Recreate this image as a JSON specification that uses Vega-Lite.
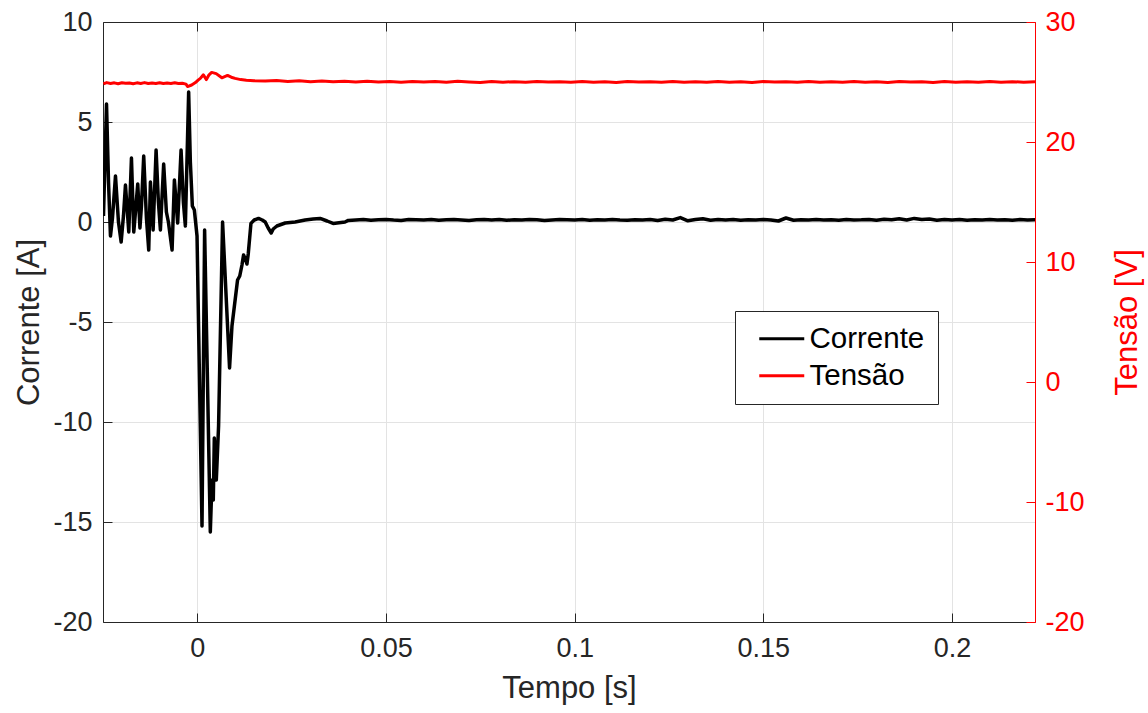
{
  "$schema": "https://vega.github.io/schema/vega-lite/v6.json",
  "width": 932,
  "height": 600,
  "autosize": "none",
  "padding": {"left": 103, "top": 22, "right": 113, "bottom": 91},
  "background": "#ffffff",
  "config": {
    "font": "Liberation Sans",
    "view": {"stroke": null, "fill": "#ffffff"},
    "axis": {
      "labelFont": "Liberation Sans",
      "titleFont": "Liberation Sans",
      "labelFontSize": 27,
      "titleFontSize": 31,
      "titleFontWeight": "normal",
      "labelColor": "#262626",
      "titleColor": "#262626",
      "domainColor": "#262626",
      "tickColor": "#262626",
      "gridColor": "#e3e3e3",
      "gridWidth": 1,
      "domainWidth": 1,
      "tickWidth": 1,
      "tickSize": -9,
      "labelFlush": false,
      "labelOverlap": false
    },
    "legend": {
      "labelFont": "Liberation Sans"
    }
  },
  "datasets": {
    "corrente": [
      {"t": -0.02487, "i": 0.3}, {"t": -0.02407, "i": 5.9}, {"t": -0.02354, "i": 2.0}, {"t": -0.02302, "i": -0.7},
      {"t": -0.02249, "i": 0.2}, {"t": -0.02169, "i": 2.3}, {"t": -0.0209, "i": 0.0}, {"t": -0.02019, "i": -1.0},
      {"t": -0.01958, "i": 0.3}, {"t": -0.01905, "i": 1.85}, {"t": -0.01817, "i": -0.5}, {"t": -0.01746, "i": 3.2},
      {"t": -0.01685, "i": -0.5}, {"t": -0.0164, "i": 0.5}, {"t": -0.01579, "i": 1.9}, {"t": -0.01521, "i": -0.3},
      {"t": -0.01481, "i": 0.8}, {"t": -0.01421, "i": 3.3}, {"t": -0.01349, "i": 0.2}, {"t": -0.01288, "i": -1.4},
      {"t": -0.01243, "i": 2.0}, {"t": -0.01172, "i": -0.4}, {"t": -0.01093, "i": 3.6}, {"t": -0.01032, "i": 1.0},
      {"t": -0.00979, "i": -0.4}, {"t": -0.00892, "i": 2.9}, {"t": -0.0082, "i": 0.5}, {"t": -0.00767, "i": 0.0},
      {"t": -0.00669, "i": -1.4}, {"t": -0.00608, "i": 2.1}, {"t": -0.00521, "i": -0.05}, {"t": -0.00431, "i": 3.6},
      {"t": -0.0037, "i": 1.0}, {"t": -0.00317, "i": -0.2}, {"t": -0.0023, "i": 6.5}, {"t": -0.00185, "i": 3.0},
      {"t": -0.00132, "i": 0.8}, {"t": -0.00079, "i": 0.6}, {"t": -0.00008, "i": -0.7}, {"t": 0.00124, "i": -15.2},
      {"t": 0.00193, "i": -0.4}, {"t": 0.00344, "i": -15.5}, {"t": 0.00389, "i": -12.9}, {"t": 0.00423, "i": -13.9},
      {"t": 0.0045, "i": -10.8}, {"t": 0.00503, "i": -12.9}, {"t": 0.00563, "i": -10.2}, {"t": 0.00669, "i": 0.0},
      {"t": 0.00854, "i": -7.3}, {"t": 0.00918, "i": -5.2}, {"t": 0.01066, "i": -2.9}, {"t": 0.01124, "i": -2.7},
      {"t": 0.01183, "i": -2.15}, {"t": 0.01225, "i": -1.65}, {"t": 0.01283, "i": -1.9}, {"t": 0.01315, "i": -2.1},
      {"t": 0.01349, "i": -1.6}, {"t": 0.01421, "i": -0.07}, {"t": 0.01508, "i": 0.1}, {"t": 0.01622, "i": 0.18},
      {"t": 0.0172, "i": 0.1}, {"t": 0.01799, "i": 0.0}, {"t": 0.01878, "i": -0.3}, {"t": 0.01958, "i": -0.55},
      {"t": 0.02011, "i": -0.35}, {"t": 0.02108, "i": -0.2}, {"t": 0.02328, "i": -0.05}, {"t": 0.02593, "i": 0.0},
      {"t": 0.02857, "i": 0.1}, {"t": 0.03069, "i": 0.15}, {"t": 0.03254, "i": 0.18}, {"t": 0.03439, "i": 0.05},
      {"t": 0.03598, "i": -0.07}, {"t": 0.03915, "i": 0.0},
      {"t": 0.040, "i": 0.08}, {"t": 0.042, "i": 0.10}, {"t": 0.044, "i": 0.12}, {"t": 0.046, "i": 0.09}, {"t": 0.048, "i": 0.11},
      {"t": 0.050, "i": 0.13}, {"t": 0.052, "i": 0.10}, {"t": 0.054, "i": 0.08}, {"t": 0.056, "i": 0.12}, {"t": 0.058, "i": 0.11},
      {"t": 0.060, "i": 0.10}, {"t": 0.062, "i": 0.13}, {"t": 0.064, "i": 0.09}, {"t": 0.066, "i": 0.11}, {"t": 0.068, "i": 0.12},
      {"t": 0.070, "i": 0.10}, {"t": 0.072, "i": 0.08}, {"t": 0.074, "i": 0.11}, {"t": 0.076, "i": 0.13}, {"t": 0.078, "i": 0.10},
      {"t": 0.080, "i": 0.12}, {"t": 0.082, "i": 0.09}, {"t": 0.084, "i": 0.11}, {"t": 0.086, "i": 0.10}, {"t": 0.088, "i": 0.13},
      {"t": 0.090, "i": 0.11}, {"t": 0.092, "i": 0.08}, {"t": 0.094, "i": 0.10}, {"t": 0.096, "i": 0.12}, {"t": 0.098, "i": 0.11},
      {"t": 0.100, "i": 0.10}, {"t": 0.102, "i": 0.12}, {"t": 0.104, "i": 0.09}, {"t": 0.106, "i": 0.11}, {"t": 0.108, "i": 0.10},
      {"t": 0.110, "i": 0.12}, {"t": 0.112, "i": 0.10}, {"t": 0.114, "i": 0.09}, {"t": 0.116, "i": 0.11}, {"t": 0.118, "i": 0.10},
      {"t": 0.120, "i": 0.12}, {"t": 0.122, "i": 0.08}, {"t": 0.124, "i": 0.14}, {"t": 0.126, "i": 0.10}, {"t": 0.128, "i": 0.22},
      {"t": 0.130, "i": 0.06}, {"t": 0.132, "i": 0.12}, {"t": 0.134, "i": 0.16}, {"t": 0.136, "i": 0.09}, {"t": 0.138, "i": 0.13},
      {"t": 0.140, "i": 0.10}, {"t": 0.142, "i": 0.12}, {"t": 0.144, "i": 0.09}, {"t": 0.146, "i": 0.11}, {"t": 0.148, "i": 0.10},
      {"t": 0.150, "i": 0.12}, {"t": 0.152, "i": 0.10}, {"t": 0.154, "i": 0.05}, {"t": 0.156, "i": 0.20}, {"t": 0.158, "i": 0.09},
      {"t": 0.160, "i": 0.11}, {"t": 0.162, "i": 0.10}, {"t": 0.164, "i": 0.12}, {"t": 0.166, "i": 0.10}, {"t": 0.168, "i": 0.11},
      {"t": 0.170, "i": 0.09}, {"t": 0.172, "i": 0.12}, {"t": 0.174, "i": 0.10}, {"t": 0.176, "i": 0.11}, {"t": 0.178, "i": 0.13},
      {"t": 0.180, "i": 0.09}, {"t": 0.182, "i": 0.14}, {"t": 0.184, "i": 0.11}, {"t": 0.186, "i": 0.16}, {"t": 0.188, "i": 0.10},
      {"t": 0.190, "i": 0.18}, {"t": 0.192, "i": 0.12}, {"t": 0.194, "i": 0.15}, {"t": 0.196, "i": 0.09}, {"t": 0.198, "i": 0.13},
      {"t": 0.200, "i": 0.10}, {"t": 0.202, "i": 0.12}, {"t": 0.204, "i": 0.09}, {"t": 0.206, "i": 0.11}, {"t": 0.208, "i": 0.10},
      {"t": 0.210, "i": 0.12}, {"t": 0.212, "i": 0.10}, {"t": 0.214, "i": 0.11}, {"t": 0.216, "i": 0.09}, {"t": 0.218, "i": 0.12},
      {"t": 0.220, "i": 0.10}, {"t": 0.222, "i": 0.11}
    ],
    "tensao": [
      {"t": -0.0249, "v": 24.85}, {"t": -0.024, "v": 24.95}, {"t": -0.023, "v": 24.88}, {"t": -0.022, "v": 24.93},
      {"t": -0.021, "v": 24.86}, {"t": -0.020, "v": 24.94}, {"t": -0.019, "v": 24.89}, {"t": -0.018, "v": 24.92},
      {"t": -0.017, "v": 24.86}, {"t": -0.016, "v": 24.93}, {"t": -0.015, "v": 24.88}, {"t": -0.014, "v": 24.95},
      {"t": -0.013, "v": 24.87}, {"t": -0.012, "v": 24.92}, {"t": -0.011, "v": 24.88}, {"t": -0.010, "v": 24.94},
      {"t": -0.009, "v": 24.87}, {"t": -0.008, "v": 24.91}, {"t": -0.007, "v": 24.88}, {"t": -0.006, "v": 24.93},
      {"t": -0.005, "v": 24.87}, {"t": -0.004, "v": 24.9}, {"t": -0.003, "v": 24.82}, {"t": -0.0026, "v": 24.62},
      {"t": -0.0015, "v": 24.75}, {"t": -0.0005, "v": 24.95}, {"t": 0.0002, "v": 25.15}, {"t": 0.0008, "v": 25.3},
      {"t": 0.0016, "v": 25.6}, {"t": 0.0024, "v": 25.2}, {"t": 0.0031, "v": 25.6}, {"t": 0.0038, "v": 25.8},
      {"t": 0.0050, "v": 25.7}, {"t": 0.0065, "v": 25.35}, {"t": 0.0080, "v": 25.55}, {"t": 0.0090, "v": 25.4},
      {"t": 0.0100, "v": 25.3}, {"t": 0.0115, "v": 25.2}, {"t": 0.0130, "v": 25.15}, {"t": 0.0150, "v": 25.1},
      {"t": 0.018, "v": 25.08}, {"t": 0.021, "v": 25.12}, {"t": 0.024, "v": 25.05}, {"t": 0.027, "v": 25.1},
      {"t": 0.030, "v": 25.03}, {"t": 0.033, "v": 25.08}, {"t": 0.036, "v": 25.02}, {"t": 0.039, "v": 25.07},
      {"t": 0.042, "v": 25.0}, {"t": 0.045, "v": 25.06}, {"t": 0.048, "v": 25.01}, {"t": 0.051, "v": 25.05},
      {"t": 0.054, "v": 24.98}, {"t": 0.057, "v": 25.04}, {"t": 0.060, "v": 24.99}, {"t": 0.063, "v": 25.05},
      {"t": 0.066, "v": 24.98}, {"t": 0.069, "v": 25.06}, {"t": 0.072, "v": 25.0}, {"t": 0.075, "v": 24.96},
      {"t": 0.078, "v": 25.04}, {"t": 0.081, "v": 24.98}, {"t": 0.084, "v": 25.03}, {"t": 0.087, "v": 24.97},
      {"t": 0.090, "v": 25.05}, {"t": 0.093, "v": 24.99}, {"t": 0.096, "v": 25.03}, {"t": 0.099, "v": 24.97},
      {"t": 0.102, "v": 25.04}, {"t": 0.105, "v": 24.98}, {"t": 0.108, "v": 25.02}, {"t": 0.111, "v": 24.96},
      {"t": 0.114, "v": 25.04}, {"t": 0.117, "v": 24.99}, {"t": 0.120, "v": 25.03}, {"t": 0.123, "v": 24.97},
      {"t": 0.126, "v": 25.05}, {"t": 0.129, "v": 24.98}, {"t": 0.132, "v": 25.02}, {"t": 0.135, "v": 24.97},
      {"t": 0.138, "v": 25.04}, {"t": 0.141, "v": 24.98}, {"t": 0.144, "v": 25.03}, {"t": 0.147, "v": 24.96},
      {"t": 0.150, "v": 25.04}, {"t": 0.153, "v": 24.99}, {"t": 0.156, "v": 25.03}, {"t": 0.159, "v": 24.97},
      {"t": 0.162, "v": 25.05}, {"t": 0.165, "v": 24.98}, {"t": 0.168, "v": 25.02}, {"t": 0.171, "v": 24.97},
      {"t": 0.174, "v": 25.04}, {"t": 0.177, "v": 24.98}, {"t": 0.180, "v": 25.03}, {"t": 0.183, "v": 24.96},
      {"t": 0.186, "v": 25.04}, {"t": 0.189, "v": 24.99}, {"t": 0.192, "v": 25.03}, {"t": 0.195, "v": 24.95},
      {"t": 0.198, "v": 25.04}, {"t": 0.201, "v": 24.98}, {"t": 0.204, "v": 25.02}, {"t": 0.207, "v": 24.97},
      {"t": 0.210, "v": 25.04}, {"t": 0.213, "v": 24.98}, {"t": 0.216, "v": 25.03}, {"t": 0.219, "v": 24.97},
      {"t": 0.222, "v": 25.02}
    ]
  },
  "layer": [
    {
      "data": {"name": "corrente"},
      "mark": {"type": "line", "strokeWidth": 3.5, "strokeJoin": "round", "clip": true},
      "encoding": {
        "x": {
          "field": "t", "type": "quantitative",
          "scale": {"domain": [-0.025, 0.222], "nice": false, "zero": false},
          "axis": {
            "title": "Tempo [s]",
            "values": [0, 0.05, 0.1, 0.15, 0.2],
            "labelExpr": "'' + datum.value",
            "labelPadding": 22,
            "titlePadding": 12,
            "grid": true
          }
        },
        "y": {
          "field": "i", "type": "quantitative",
          "scale": {"domain": [-20, 10], "nice": false, "zero": false},
          "axis": {
            "title": "Corrente [A]",
            "orient": "left",
            "values": [-20, -15, -10, -5, 0, 5, 10],
            "labelExpr": "'' + datum.value",
            "labelPadding": 20,
            "titlePadding": 7,
            "grid": true
          }
        },
        "color": {
          "datum": "Corrente",
          "type": "nominal",
          "scale": {"domain": ["Corrente", "Tensão"], "range": ["#000000", "#ff0000"]},
          "legend": {
            "title": null,
            "orient": "none",
            "legendX": 632,
            "legendY": 289,
            "direction": "vertical",
            "symbolType": "M-4.5,0H4.5",
            "symbolSize": 100,
            "symbolStrokeWidth": 3.2,
            "symbolOffset": 19,
            "labelFontSize": 29.5,
            "labelColor": "#000000",
            "labelOffset": 13,
            "rowPadding": 6,
            "padding": 13,
            "strokeColor": "#262626",
            "fillColor": "#ffffff"
          }
        }
      }
    },
    {
      "data": {"name": "tensao"},
      "mark": {"type": "line", "strokeWidth": 3, "strokeJoin": "round", "clip": true},
      "encoding": {
        "x": {
          "field": "t", "type": "quantitative",
          "axis": {
            "orient": "top",
            "title": null,
            "labels": false,
            "values": [0, 0.05, 0.1, 0.15, 0.2],
            "grid": false
          }
        },
        "y": {
          "field": "v", "type": "quantitative",
          "scale": {"domain": [-20, 30], "nice": false, "zero": false},
          "axis": {
            "title": "Tensão [V]",
            "orient": "right",
            "values": [-20, -10, 0, 10, 20, 30],
            "labelExpr": "'' + datum.value",
            "labelPadding": 19,
            "titlePadding": 28,
            "titleAngle": 270,
            "titleBaseline": "top",
            "grid": false,
            "domainColor": "#ff0000",
            "tickColor": "#ff0000",
            "labelColor": "#ff0000",
            "titleColor": "#ff0000"
          }
        },
        "color": {"datum": "Tensão", "type": "nominal"}
      }
    }
  ],
  "resolve": {"scale": {"y": "independent"}, "axis": {"x": "independent"}}
}
